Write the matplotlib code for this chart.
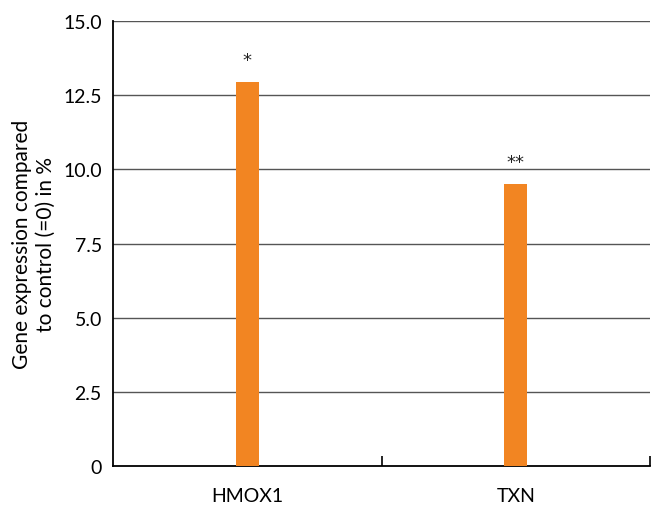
import matplotlib
matplotlib.use("Agg")
import matplotlib.pyplot as plt
from matplotlib.ticker import FixedLocator

genes = ["HMOX1", "TXN"]
expression = [12.95, 9.51]
significance = ["*", "**"]
y_ticks = [0, 2.5, 5.0, 7.5, 10.0, 12.5, 15.0]
y_tick_labels = ["0", "2.5", "5.0", "7.5", "10.0", "12.5", "15.0"]

plt.rcParams["font.family"] = ["Lato", "DejaVu Sans"]

fig = plt.figure(figsize=(6.52, 5.06), dpi=100)
ax = fig.add_axes([113 / 652, 1 - 467 / 506, (650 - 113) / 652, (467 - 22) / 506])

x = list(range(len(genes)))
ax.bar(x, expression, width=0.086, color="#F28522", zorder=3)

for xi, val, mark in zip(x, expression, significance):
    ax.text(xi, val + 0.75, mark, ha="center", va="center", fontsize=13,
            family="DejaVu Sans", color="#222222")

ax.set_xlim(-0.5, len(genes) - 0.5)
ax.set_ylim(0, 15)
ax.set_yticks(y_ticks)
ax.set_yticklabels(y_tick_labels)
ax.set_xticks(x)
ax.set_xticklabels(genes)

# horizontal gridlines
for yv in y_ticks[1:]:
    ax.axhline(yv, color="#555555", linewidth=1.0, zorder=1)

# category separator ticks on the x axis
ax.xaxis.set_minor_locator(FixedLocator([0.5, 1.5]))
ax.tick_params(axis="x", which="minor", direction="in", length=7, width=1.2, color="black")
ax.tick_params(axis="x", which="major", length=0, pad=15, labelsize=14)
ax.tick_params(axis="y", length=0, pad=8, labelsize=14)

for side in ["top", "right"]:
    ax.spines[side].set_visible(False)
ax.spines["left"].set_linewidth(1.3)
ax.spines["bottom"].set_linewidth(1.3)

ax.set_ylabel("Gene expression compared\nto control (=0) in %", fontsize=15, labelpad=5, linespacing=1.25)

fig.savefig("out.png", dpi=100)
